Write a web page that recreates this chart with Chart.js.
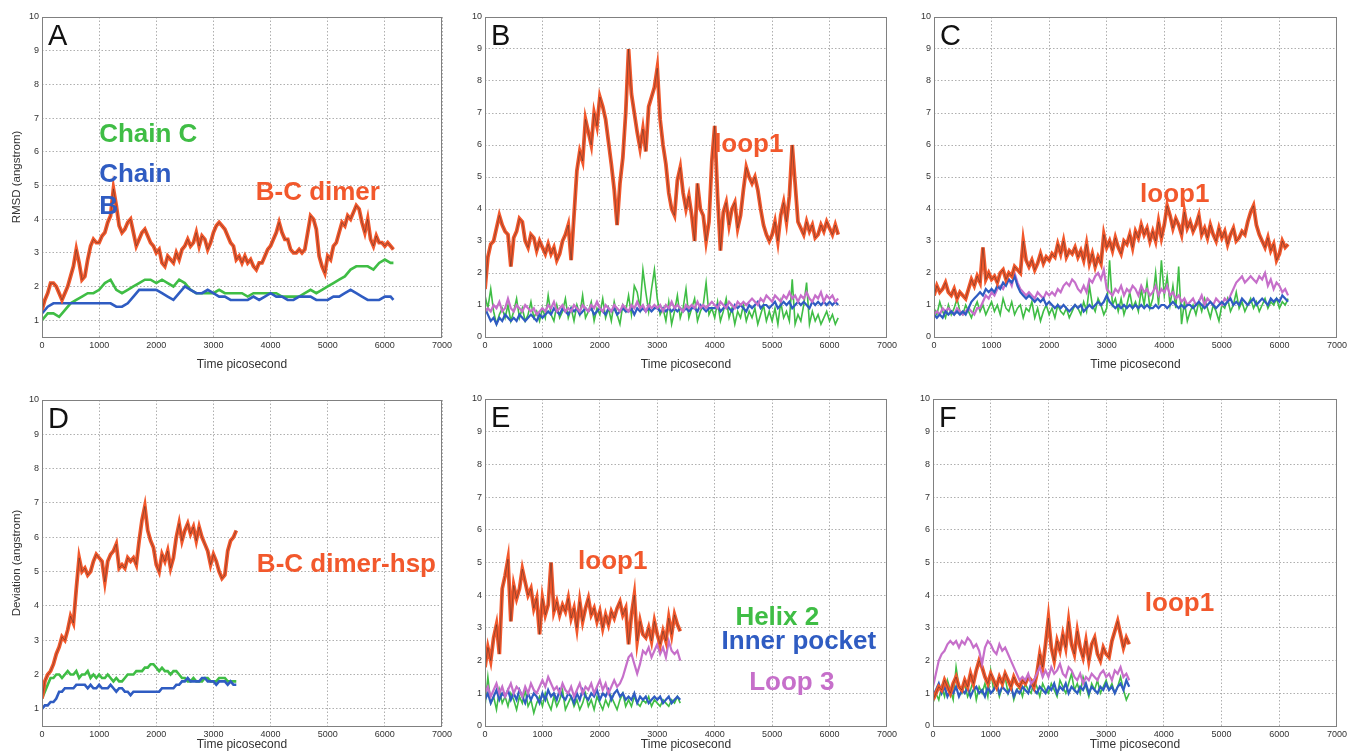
<!DOCTYPE html>
<html>
<head>
<meta charset="utf-8">
<script src="https://cdn.jsdelivr.net/npm/chart.js@4.4.1/dist/chart.umd.min.js"></script>
<style>
  html, body { margin: 0; padding: 0; background: #fff; overflow: hidden; }
  canvas { position: absolute; }
</style>
</head>
<body>
<canvas id="pA"></canvas>
<canvas id="pB"></canvas>
<canvas id="pC"></canvas>
<canvas id="pD"></canvas>
<canvas id="pE"></canvas>
<canvas id="pF"></canvas>
<script>
// time axes (picoseconds)
const T_LONG = [
  0, 50, 100, 150, 200, 250, 300, 350, 400, 450,
  500, 550, 600, 650, 700, 750, 800, 850, 900, 950,
  1000, 1050, 1100, 1150, 1200, 1250, 1300, 1350, 1400, 1450,
  1500, 1550, 1600, 1650, 1700, 1750, 1800, 1850, 1900, 1950,
  2000, 2050, 2100, 2150, 2200, 2250, 2300, 2350, 2400, 2450,
  2500, 2550, 2600, 2650, 2700, 2750, 2800, 2850, 2900, 2950,
  3000, 3050, 3100, 3150, 3200, 3250, 3300, 3350, 3400, 3450,
  3500, 3550, 3600, 3650, 3700, 3750, 3800, 3850, 3900, 3950,
  4000, 4050, 4100, 4150, 4200, 4250, 4300, 4350, 4400, 4450,
  4500, 4550, 4600, 4650, 4700, 4750, 4800, 4850, 4900, 4950,
  5000, 5050, 5100, 5150, 5200, 5250, 5300, 5350, 5400, 5450,
  5500, 5550, 5600, 5650, 5700, 5750, 5800, 5850, 5900, 5950,
  6000, 6050, 6100, 6150
];
const T_LONG_100 = [
  0, 100, 200, 300, 400, 500, 600, 700, 800, 900,
  1000, 1100, 1200, 1300, 1400, 1500, 1600, 1700, 1800, 1900,
  2000, 2100, 2200, 2300, 2400, 2500, 2600, 2700, 2800, 2900,
  3000, 3100, 3200, 3300, 3400, 3500, 3600, 3700, 3800, 3900,
  4000, 4100, 4200, 4300, 4400, 4500, 4600, 4700, 4800, 4900,
  5000, 5100, 5200, 5300, 5400, 5500, 5600, 5700, 5800, 5900,
  6000, 6100, 6150
];
const T_SHORT = [
  0, 50, 100, 150, 200, 250, 300, 350, 400, 450,
  500, 550, 600, 650, 700, 750, 800, 850, 900, 950,
  1000, 1050, 1100, 1150, 1200, 1250, 1300, 1350, 1400, 1450,
  1500, 1550, 1600, 1650, 1700, 1750, 1800, 1850, 1900, 1950,
  2000, 2050, 2100, 2150, 2200, 2250, 2300, 2350, 2400, 2450,
  2500, 2550, 2600, 2650, 2700, 2750, 2800, 2850, 2900, 2950,
  3000, 3050, 3100, 3150, 3200, 3250, 3300, 3350, 3400
];

// panel A: RMSD of B-C dimer, chain C, chain B
const A_DIMER = [
  1.3, 1.6, 1.8, 2.1, 2.1, 2.0, 1.8, 1.6, 1.8, 2.0,
  2.3, 2.6, 3.1, 2.7, 2.2, 2.3, 2.8, 3.2, 3.4, 3.3,
  3.3, 3.5, 3.6, 3.9, 4.1, 4.9, 4.4, 3.8, 3.6, 3.7,
  3.9, 4.0, 3.6, 3.2, 3.4, 3.6, 3.7, 3.5, 3.3, 3.2,
  3.0, 3.1, 2.7, 2.6, 2.9, 2.8, 2.7, 3.0, 2.8, 3.1,
  3.2, 3.4, 3.2, 3.3, 3.6, 3.2, 3.5, 3.4, 3.1, 3.3,
  3.6, 3.8, 3.9, 3.8, 3.7, 3.5, 3.3, 3.2, 2.8, 2.9,
  2.7, 2.9, 2.7, 2.8, 2.6, 2.5, 2.7, 2.7, 2.9, 3.1,
  3.2, 3.4, 3.6, 3.9, 3.6, 3.4, 3.4, 3.1, 3.0, 3.0,
  3.1, 3.0, 3.1, 3.6, 4.1, 4.0, 3.7, 2.9, 2.6, 2.4,
  2.9, 2.8, 3.2, 3.3, 3.6, 3.9, 3.8, 4.1, 4.0, 4.2,
  4.4, 4.3, 3.9, 3.6, 4.0, 3.4, 3.2, 3.5, 3.3, 3.3,
  3.2, 3.3, 3.2, 3.1
];
const A_CHAIN_C = [
  1.0, 1.2, 1.2, 1.1, 1.3, 1.5, 1.6, 1.7, 1.8, 1.8,
  1.9, 2.1, 2.2, 1.9, 1.8, 1.9, 2.0, 2.1, 2.2, 2.2,
  2.1, 2.2, 2.1, 2.0, 2.2, 2.1, 1.9, 1.8, 1.8, 1.8,
  1.8, 1.9, 1.8, 1.8, 1.8, 1.8, 1.7, 1.8, 1.8, 1.8,
  1.8, 1.8, 1.7, 1.7, 1.7, 1.7, 1.8, 1.9, 1.8, 1.9,
  2.0, 2.1, 2.2, 2.3, 2.5, 2.6, 2.6, 2.6, 2.5, 2.7,
  2.8, 2.7, 2.7
];
const A_CHAIN_B = [
  1.2, 1.4, 1.5, 1.5, 1.5, 1.5, 1.5, 1.5, 1.5, 1.5,
  1.5, 1.5, 1.5, 1.4, 1.4, 1.5, 1.7, 1.9, 1.9, 1.9,
  1.9, 1.8, 1.7, 1.6, 1.8, 2.0, 1.9, 1.8, 1.8, 1.9,
  1.8, 1.7, 1.7, 1.6, 1.6, 1.6, 1.6, 1.7, 1.6, 1.7,
  1.8, 1.7, 1.7, 1.6, 1.6, 1.7, 1.7, 1.7, 1.6, 1.6,
  1.6, 1.7, 1.7, 1.8, 1.9, 1.8, 1.7, 1.6, 1.6, 1.6,
  1.7, 1.7, 1.6
];

// panel B
const B_LOOP1 = [
  1.5, 2.5, 2.9, 3.0, 3.4, 3.8, 3.5, 3.3, 3.2, 2.2,
  3.1, 3.3, 3.7, 3.6, 3.0, 2.8, 3.2, 3.1, 2.7, 3.0,
  2.8, 2.6, 2.9, 2.6, 2.8, 2.4, 2.6, 3.0, 3.2, 3.5,
  2.4, 3.8, 5.2, 5.8, 5.5, 6.8, 6.4, 6.0, 7.0, 6.6,
  7.5, 7.2, 6.8, 6.1, 5.4, 4.6, 3.5, 4.8, 5.6, 7.0,
  9.0, 7.6, 7.0, 6.4, 5.9, 6.5, 5.8, 7.2, 7.5, 7.8,
  8.4, 6.8, 6.0, 5.4, 4.5, 4.0, 3.8, 4.9, 5.3, 4.5,
  4.0, 4.4, 3.8, 3.0, 4.8, 4.0, 3.8, 3.0, 3.6, 5.5,
  6.6, 4.4, 2.7, 3.9, 4.2, 3.5, 4.0, 4.2, 3.4, 3.8,
  4.6, 5.3, 5.0, 4.8, 5.0, 4.6, 4.0, 3.5, 3.2, 3.0,
  3.2, 3.6, 3.0, 3.8, 4.2, 3.6, 4.4, 6.0, 4.8, 3.6,
  3.4, 3.2, 3.6, 3.3, 3.5, 3.1, 3.2, 3.5, 3.3, 3.6,
  3.4, 3.2, 3.5, 3.2
];
const B_GREEN = [
  1.3, 0.9, 1.5, 0.8, 0.4, 0.7, 0.9, 0.6, 1.0, 0.5,
  0.8, 1.2, 0.6, 0.9, 0.5, 0.7, 1.1, 0.6, 0.8, 0.5,
  0.9, 0.6, 1.3, 0.7, 0.5, 1.0, 0.6, 0.8, 1.2, 0.6,
  0.9, 0.5, 1.0, 0.7, 1.3, 0.6, 0.8, 1.1, 0.5, 0.9,
  0.7, 1.2, 0.6, 0.9, 0.5, 1.1, 0.7, 0.4, 1.0, 0.8,
  1.3, 0.7, 1.6, 1.4, 0.9, 2.1, 1.4, 0.8, 1.5, 2.1,
  1.2, 0.7, 0.9, 0.5, 1.1, 0.4, 0.8, 1.3, 0.6, 0.9,
  1.5, 0.6, 0.9, 1.2, 0.5, 0.8, 1.0, 1.7, 0.7, 0.9,
  0.6, 1.1, 0.5, 0.8, 1.2, 0.6, 0.9, 0.4, 0.8, 0.6,
  1.0, 0.5, 0.8, 0.6, 0.9, 0.4, 0.7, 1.0, 0.5, 0.8,
  0.5, 0.9, 0.4, 1.1, 0.6, 0.8, 0.5, 1.8, 0.4, 0.7,
  0.5, 1.0, 1.7, 0.4, 0.8, 0.5, 0.7, 0.4, 0.6, 0.8,
  0.5, 0.7, 0.4, 0.6
];
const B_BLUE = [
  0.9, 0.7, 0.5, 0.6, 0.4, 0.6, 0.5, 0.7, 0.6, 0.5,
  0.6, 0.5, 0.7, 0.6, 0.5, 0.6, 0.7, 0.6, 0.5, 0.7,
  0.6, 0.7, 0.8, 0.7, 0.9, 0.8, 0.7, 0.9, 0.8, 0.7,
  0.9, 0.8, 0.9, 0.7, 0.8, 0.9, 0.8, 0.9, 0.7, 0.8,
  0.9, 0.8, 0.7, 0.9, 0.8, 0.9, 0.7, 0.8, 0.9, 0.8,
  0.8, 0.9, 0.7, 0.9, 0.8, 0.9, 0.8, 0.9, 0.8, 0.9,
  0.9, 0.8, 0.9, 0.8, 0.9, 0.8, 0.9, 0.8, 0.9, 0.8,
  0.9, 0.8, 0.9, 0.9, 0.8, 1.0, 0.9, 0.8, 0.9, 0.9,
  0.9, 1.0, 0.8, 0.9, 1.0, 0.9, 0.8, 1.0, 0.9, 1.0,
  0.9, 0.8, 1.0, 0.9, 1.0, 1.1, 0.9, 1.0, 1.0, 0.9,
  1.0, 1.1, 0.9, 1.0, 1.1, 1.0, 1.1, 0.9, 1.0, 1.1,
  1.0, 1.1, 1.0, 0.9, 1.1, 1.0, 1.1, 1.0, 1.1, 1.0,
  1.1, 1.0, 1.1, 1.0
];
const B_MAGENTA = [
  0.8, 0.9, 0.8, 1.0, 0.9, 1.1, 0.8, 0.9, 1.2, 0.9,
  0.8, 1.0, 0.9, 0.8, 1.0, 0.9, 0.8, 0.9, 0.7, 0.8,
  0.9, 0.8, 1.0, 0.9, 1.1, 0.8, 0.9, 1.0, 0.8, 0.9,
  0.8, 1.0, 0.9, 0.8, 1.0, 0.9, 0.8, 1.0, 0.9, 1.1,
  0.9, 0.8, 1.0, 0.9, 0.8, 1.0, 0.9, 0.8, 1.0, 0.9,
  0.8, 1.0, 0.9, 1.1, 0.9, 1.0, 0.8, 1.0, 0.9, 1.0,
  0.9, 1.0, 0.8, 1.0, 0.9, 1.1, 0.9, 1.0, 0.9, 0.8,
  1.0, 0.9, 1.0, 0.9, 1.1, 0.9, 1.0, 0.9, 1.0, 1.1,
  1.0, 0.9, 1.1, 1.0, 0.9, 1.1, 1.0, 0.9, 1.1, 1.0,
  1.1, 1.0, 1.1, 1.2, 1.1, 1.0, 1.2, 1.1, 1.3, 1.2,
  1.1, 1.3, 1.2, 1.1, 1.3, 1.2, 1.4, 1.2, 1.3, 1.1,
  1.3, 1.2, 1.4, 1.2, 1.1, 1.3, 1.2, 1.4, 1.1, 1.3,
  1.2, 1.3, 1.1, 1.2
];

// panel C
const C_LOOP1 = [
  1.3, 1.6, 1.4, 1.5, 1.7, 1.4, 1.3, 1.5, 1.2, 1.4,
  1.3, 1.2, 1.5, 1.8, 1.6, 1.9, 1.7, 2.8, 1.8, 2.0,
  1.8, 1.9, 1.7, 2.0, 2.1, 1.8, 2.0, 1.9, 2.2, 2.1,
  2.0, 3.0, 2.4, 2.2, 2.4, 2.1, 2.3, 2.6, 2.3, 2.5,
  2.4, 2.6, 2.5, 2.9, 2.6, 3.0, 2.5, 2.7, 2.6, 2.8,
  2.5, 2.7, 2.4, 2.9, 2.3, 2.6, 2.2, 2.5, 2.3, 3.2,
  2.8, 3.0, 2.7, 3.1, 2.8, 2.6, 3.0, 2.9, 3.2, 2.8,
  3.3, 3.1, 3.5, 3.2, 3.4, 3.0, 3.3, 3.0, 3.6, 3.1,
  3.5, 4.1, 3.8, 3.4, 3.7, 3.5, 3.2, 3.9, 3.4, 3.6,
  3.3, 3.5, 3.8, 3.2, 3.4, 3.1, 3.5, 3.2, 3.0, 3.4,
  3.1, 3.3, 2.9, 3.2, 3.4, 3.0, 3.1, 3.3, 3.2, 3.6,
  3.9, 4.1, 3.5, 3.2, 3.0, 2.8, 3.1, 2.7, 2.9, 2.4,
  2.6, 3.0, 2.8, 2.9
];
const C_GREEN = [
  0.9, 0.7, 1.1, 0.8, 0.6, 1.0, 0.7, 0.9, 1.2, 0.8,
  0.7, 1.0, 0.8, 0.6, 0.9, 1.1, 0.8, 1.0, 0.7, 0.9,
  1.1, 0.8, 1.0, 0.7, 1.2, 0.9, 0.8, 1.1, 0.7, 0.9,
  1.0, 0.6, 0.9, 0.8, 1.1, 0.6, 0.9, 0.5, 0.8, 1.0,
  0.7, 0.9, 0.6, 1.0, 0.8, 0.7, 0.9, 0.6, 0.8, 1.0,
  0.9, 0.7, 1.1, 0.8, 1.6, 1.0, 0.8, 1.2, 1.0, 0.7,
  0.9, 2.4, 1.0, 1.2, 0.8, 1.2, 0.7, 1.0, 1.4, 0.9,
  1.1, 0.8, 1.5, 1.0, 1.7, 0.9, 1.2, 2.0, 1.0, 2.4,
  1.3, 1.9, 1.0, 1.6, 0.9, 2.2, 0.4, 1.1, 0.5, 0.8,
  1.0, 0.7, 1.1, 0.8, 1.2, 0.9, 0.6, 1.0, 0.8, 0.5,
  1.0, 0.9, 1.2, 0.8, 1.0, 1.4, 0.9, 1.1, 0.8, 1.0,
  1.2, 0.9, 1.1, 0.8, 1.0, 1.2, 0.9, 1.1, 1.0, 1.2,
  0.9, 1.1, 1.0, 1.2
];
const C_BLUE = [
  0.7, 0.6, 0.7, 0.6, 0.8, 0.7, 0.8, 0.7, 0.8, 0.7,
  0.8, 0.7, 0.9, 1.1, 1.2, 1.3, 1.4, 1.3, 1.5, 1.4,
  1.5, 1.4, 1.6, 1.5, 1.7, 1.6, 1.8, 1.7, 1.9, 1.6,
  1.4, 1.3, 1.2, 1.3, 1.2, 1.1, 1.2, 1.1, 1.2, 1.0,
  1.1, 1.0, 0.9, 1.0, 0.9, 1.0, 0.9, 0.8, 0.9, 1.0,
  0.9, 1.0, 0.8, 0.9, 1.0, 0.9, 1.0, 1.1, 1.0, 1.1,
  1.3, 1.1, 1.0, 0.9, 1.0, 0.9, 1.0, 0.9, 1.0, 0.9,
  1.0, 0.9, 1.0, 0.9, 1.0, 0.9, 0.9, 1.0, 0.9, 1.0,
  1.0, 0.9, 1.0, 1.1, 1.0, 0.9, 1.0, 0.9, 1.0, 1.0,
  0.9, 1.0, 1.1, 1.0, 0.9, 1.0, 1.1, 1.0, 0.9, 1.0,
  1.1, 1.0, 1.1, 1.2, 1.0, 1.1, 1.0, 1.2, 1.1, 1.0,
  1.1, 1.2, 1.0, 1.1, 1.2, 1.1, 1.0, 1.2, 1.1, 1.2,
  1.1, 1.3, 1.2, 1.1
];
const C_MAGENTA = [
  0.7, 0.8, 0.7, 0.9, 0.8, 0.9, 0.8, 0.7, 0.9, 0.8,
  0.7, 0.8, 0.9, 0.8, 0.7, 0.9, 0.9, 1.1, 1.3, 1.2,
  1.4, 1.3, 1.5, 1.6, 1.5, 1.7, 1.8, 1.6, 2.0, 1.7,
  1.5, 1.4, 1.3, 1.4, 1.3, 1.2, 1.4, 1.3, 1.2, 1.4,
  1.3, 1.4, 1.3, 1.5, 1.4, 1.6, 1.7, 1.6, 1.8, 1.7,
  1.5, 1.4, 1.6, 1.4, 1.8, 1.7, 1.9, 2.0, 1.8, 2.1,
  1.5, 1.4, 1.3, 1.5, 1.4, 1.6, 1.3, 1.5, 1.4, 1.6,
  1.5, 1.3, 1.6, 1.4, 1.5, 1.3, 1.4, 1.6, 1.3, 1.5,
  1.4, 1.6, 1.3, 1.4, 1.2, 1.3, 1.1, 1.2, 1.0, 1.1,
  1.2, 1.0, 1.1, 1.3, 1.0, 1.2, 1.1, 1.0, 1.2, 1.1,
  1.0, 1.2, 1.1, 1.3, 1.5, 1.7, 1.8, 1.9, 1.7, 1.8,
  1.9, 1.8, 1.7, 1.9, 1.8, 2.0, 1.6, 1.8, 1.5, 1.7,
  1.6, 1.4, 1.5, 1.3
];

// panel D: deviation of B-C dimer with hsp
const D_DIMER = [
  1.3, 1.8, 2.0, 2.1, 2.3, 2.6, 2.8, 3.1, 3.0, 3.3,
  3.7, 3.5, 4.5, 5.4, 5.0, 5.1, 4.9, 5.0, 5.3, 5.5,
  5.4, 5.3, 4.7, 5.3, 5.5, 5.6, 5.8, 5.1, 5.2, 5.1,
  5.4, 5.3, 5.4, 5.2, 5.9, 6.5, 6.9, 6.2, 5.9, 5.7,
  5.2, 5.0, 5.5, 5.3, 5.6, 5.1, 5.4, 6.0, 6.4, 5.9,
  6.2, 6.4, 6.1, 6.3, 5.9, 6.3, 6.0, 5.8, 5.6, 5.2,
  5.5, 5.3, 5.0, 4.8, 4.9, 5.6, 5.9, 6.0, 6.2
];
const D_GREEN = [
  1.3, 1.5, 1.7, 1.9, 1.9, 2.0, 2.0, 1.9, 2.0, 2.1,
  2.0, 2.0, 2.1, 1.9, 2.0, 2.0, 2.1, 1.9, 2.0, 1.9,
  2.0, 1.9, 1.9, 2.0, 1.9, 1.8, 1.9, 1.8, 1.8, 1.9,
  2.0, 2.0, 2.0, 2.1, 2.1, 2.1, 2.2, 2.2, 2.3, 2.3,
  2.2, 2.1, 2.2, 2.1, 2.1, 2.0, 2.1, 2.1, 2.0, 1.9,
  1.9, 1.8, 1.8, 1.9, 1.8, 1.8, 1.8, 1.9, 1.9, 1.8,
  1.8, 1.8, 1.9, 1.9, 1.9, 1.8, 1.8, 1.8, 1.8
];
const D_BLUE = [
  1.0, 1.1, 1.1, 1.2, 1.2, 1.3, 1.5, 1.5, 1.6, 1.6,
  1.6, 1.6, 1.7, 1.7, 1.7, 1.7, 1.6, 1.7, 1.6, 1.6,
  1.7, 1.6, 1.6, 1.6, 1.7, 1.6, 1.5, 1.6, 1.6, 1.5,
  1.5, 1.4, 1.5, 1.5, 1.5, 1.5, 1.5, 1.5, 1.5, 1.5,
  1.5, 1.5, 1.6, 1.6, 1.6, 1.6, 1.6, 1.7, 1.7, 1.8,
  1.8, 1.9, 1.8, 1.8, 1.8, 1.8, 1.9, 1.9, 1.8, 1.8,
  1.8, 1.7, 1.8, 1.8, 1.8, 1.7, 1.8, 1.7, 1.7
];

// panel E
const E_LOOP1 = [
  1.8, 2.4, 2.0, 2.7, 3.1, 2.2, 4.2, 4.6, 5.1, 3.2,
  4.3, 3.9, 4.2, 4.8, 4.4, 4.0, 4.2, 3.6, 3.9, 2.8,
  3.9, 3.4, 3.7, 5.0, 3.5, 3.8, 3.4, 3.7, 3.5, 3.9,
  3.3, 3.6, 3.0, 3.8, 3.2, 3.6, 3.9, 3.4, 3.6, 3.2,
  3.5, 3.0, 3.4, 3.1, 3.5, 3.3, 3.6, 3.8, 3.4, 3.6,
  2.5, 3.4, 4.0, 2.6, 3.2, 2.8, 2.7, 3.0, 2.6, 3.2,
  2.8, 2.5, 2.9, 2.6, 3.3, 2.8, 3.4, 3.1, 2.9
];
const E_GREEN = [
  0.6, 1.5, 0.7, 0.9, 0.5, 1.1, 0.7, 0.9, 0.6, 1.0,
  0.8, 0.5, 0.9, 0.7, 1.1, 0.6, 0.8, 0.4, 0.7, 0.9,
  0.6, 1.0, 0.7, 0.5, 0.9, 0.6, 0.8, 1.1, 0.5, 0.7,
  0.9, 0.6, 0.8, 0.5, 0.7, 1.0, 0.6, 0.8, 0.5, 0.9,
  0.7, 0.5, 0.8, 0.6, 0.9, 0.7, 0.5, 0.8, 1.0, 0.6,
  0.8, 0.6, 0.9, 0.7, 0.6, 0.8, 0.7, 0.9, 0.6, 0.8,
  0.7, 0.6, 0.8, 0.7, 0.6, 0.8, 0.7, 0.9, 0.7
];
const E_BLUE = [
  0.8, 1.0, 0.7, 0.9, 1.1, 0.8, 1.0, 0.9, 1.1, 0.8,
  1.0, 0.8, 1.1, 0.9, 0.7, 1.0, 0.8, 1.0, 0.9, 0.7,
  1.0, 0.8, 1.1, 0.9, 1.0, 0.8, 1.1, 0.9, 0.8, 1.0,
  0.9, 0.7, 1.0, 0.8, 1.1, 0.9, 0.8, 1.0, 0.9, 1.1,
  0.8, 1.0, 0.9, 1.1, 0.8, 1.0, 1.1, 0.9, 1.0, 0.8,
  0.9, 0.8, 1.0, 0.7, 0.9, 0.8, 0.9, 0.7, 0.8, 0.9,
  0.8, 0.9, 0.7, 0.8, 0.9, 0.7, 0.8, 0.9, 0.8
];
const E_MAGENTA = [
  1.0, 1.2, 0.9, 1.1, 1.3, 1.0, 1.2, 0.9, 1.1, 1.3,
  1.0, 1.2, 1.1, 0.9, 1.2, 1.0, 1.3, 1.1, 1.0, 1.2,
  1.4, 1.2, 1.5, 1.3, 1.1, 1.2, 1.0, 1.3, 1.1, 1.0,
  1.2, 0.9, 1.1, 1.3, 1.0, 1.2, 1.1, 1.3, 1.0, 1.2,
  1.4, 1.1, 1.3, 1.0, 1.2, 1.4, 1.2, 1.3, 1.5, 1.8,
  2.1, 2.2, 1.9, 1.6, 1.9, 2.3, 2.2, 2.4, 2.1, 2.3,
  2.5, 2.2, 2.4, 2.1, 2.6, 2.3, 2.2, 2.3, 2.0
];

// panel F
const F_LOOP1 = [
  0.8, 1.0, 1.2, 1.1, 1.4, 1.2, 1.0, 1.3, 1.5, 1.2,
  1.1, 1.4, 1.2, 1.6, 1.3, 1.7, 2.0, 1.8, 1.5, 1.3,
  1.6, 1.4, 1.2, 1.5, 1.3, 1.6, 1.4, 1.2, 1.5, 1.3,
  1.2, 1.4, 1.3, 1.5, 1.4, 1.2, 1.6, 2.2, 1.8, 2.5,
  3.3, 2.4, 2.0, 2.6, 2.3, 2.8, 2.4, 3.2, 2.5, 2.2,
  2.9, 2.4, 2.1, 2.6, 2.0, 2.5, 2.7, 2.2, 2.0, 2.4,
  2.2, 2.1, 2.6, 2.9, 3.2, 2.8, 2.4, 2.7, 2.5
];
const F_GREEN = [
  0.7, 1.0, 0.8, 1.2, 0.9, 1.4, 1.1, 0.8, 1.8, 1.2,
  1.0, 1.3, 0.9, 1.1, 1.4, 0.8, 1.2, 1.0, 1.3, 0.9,
  1.7, 1.1, 1.3, 0.9, 1.2, 1.5, 1.0, 1.3, 0.8, 1.1,
  1.2, 0.9, 1.3, 1.1, 1.0, 1.4, 1.2, 0.9, 1.3, 1.1,
  1.0, 1.3, 1.1, 0.9, 1.4, 1.2, 1.0, 1.3, 1.6, 1.1,
  1.3, 1.0, 1.5, 1.2, 0.9, 1.3, 1.1, 1.4, 1.0, 1.2,
  1.4, 1.1, 1.3, 1.0, 1.2, 1.5, 1.1, 0.8, 1.0
];
const F_BLUE = [
  0.9, 1.1, 1.3, 1.0, 1.2, 0.9, 1.1, 1.0, 1.2, 0.9,
  1.1, 1.0, 1.2, 0.9, 1.1, 1.2, 1.0, 1.1, 0.9, 1.2,
  1.0, 1.1, 1.3, 1.0, 1.2, 1.1, 1.0, 1.2, 0.9, 1.1,
  1.0, 1.2, 1.1, 1.0, 1.3, 1.1, 1.0, 1.2, 1.1, 1.0,
  1.2, 1.1, 1.3, 1.0, 1.2, 1.1, 1.3, 1.0, 1.2, 1.1,
  1.0, 1.2, 1.1, 1.3, 1.0, 1.2, 1.1, 1.0, 1.2, 1.1,
  1.3, 1.1, 1.2, 1.0, 1.2, 1.3, 1.1, 1.4, 1.2
];
const F_MAGENTA = [
  1.2, 1.6, 2.0, 2.2, 2.3, 2.5, 2.6, 2.5, 2.6, 2.4,
  2.6, 2.5, 2.7, 2.6, 2.4, 2.5, 2.3, 1.9, 2.4, 2.6,
  2.5, 2.3, 2.2, 2.5, 2.3, 2.4, 2.2, 2.0, 1.8, 1.6,
  1.4, 1.5, 1.4, 1.6, 1.3, 1.4, 1.6, 1.8, 1.5, 1.7,
  1.5, 1.8, 1.6, 1.7, 1.9, 1.6, 1.5, 1.8, 1.7, 1.5,
  1.4, 1.6, 1.3, 1.5, 1.4, 1.6, 1.5, 1.4, 1.6, 1.7,
  1.5, 1.6, 1.4, 1.7, 1.6, 1.8, 1.5, 1.6, 1.4
];

const X_TICKS = [0, 1000, 2000, 3000, 4000, 5000, 6000, 7000];
const Y_TICKS = [0, 1, 2, 3, 4, 5, 6, 7, 8, 9, 10];

const ORANGE = '#f2582c';
const GREEN = '#3fbd45';
const BLUE = '#2f5cc2';
const MAGENTA = '#c66fca';
const FONT = '"Liberation Sans", Arial, sans-serif';

/**
 * Builds a line dataset from a time axis and a value list.
 */
function line(times, values, color, width) {
    return {
        data: values.map((v, i) => ({x: times[i], y: v})),
        borderColor: color,
        borderWidth: width,
        pointRadius: 0,
        tension: 0,
        fill: false
    };
}

// orange trace with the thin black trace running through it
function loop(times, values) {
    return [
        line(times, values, ORANGE, 3.8),
        line(times, values, 'rgba(40,40,40,0.7)', 0.6)
    ];
}

// draws the box, the panel letter and the coloured labels
const decorations = {
    id: 'decorations',
    afterDatasetsDraw(chart, args, opts) {
        const {ctx, chartArea: a, scales} = chart;
        ctx.save();
        ctx.strokeStyle = '#808080';
        ctx.lineWidth = 1;
        ctx.strokeRect(a.left + 0.5, a.top + 0.5, a.width - 1, a.height);
        ctx.fillStyle = '#111';
        ctx.font = '29px ' + FONT;
        ctx.textBaseline = 'top';
        ctx.fillText(opts.letter, a.left + 6, a.top + 5);
        ctx.font = 'bold 26px ' + FONT;
        ctx.textBaseline = 'middle';
        (opts.notes || []).forEach(n => {
            ctx.fillStyle = n.color;
            ctx.fillText(n.text, scales.x.getPixelForValue(n.t),
                         scales.y.getPixelForValue(n.v));
        });
        ctx.restore();
    }
};

function makePanel(p) {
    const canvas = document.getElementById(p.id);
    canvas.width = p.w;
    canvas.height = p.h;
    canvas.style.left = p.left + 'px';
    canvas.style.top = p.top + 'px';
    const tickFont = {family: FONT, size: 9};
    const datasets = p.series;
    datasets.forEach((d, i) => { d.order = datasets.length - i; });
    return new Chart(canvas, {
        type: 'line',
        data: {datasets: datasets},
        plugins: [decorations],
        options: {
            responsive: false,
            animation: false,
            devicePixelRatio: 1,
            layout: {padding: {top: p.padTop, right: p.padRight, left: 0, bottom: 0}},
            plugins: {
                legend: {display: false},
                tooltip: {enabled: false},
                decorations: {letter: p.letter, notes: p.notes}
            },
            scales: {
                x: {
                    type: 'linear',
                    min: 0,
                    max: 7000,
                    afterBuildTicks: s => { s.ticks = X_TICKS.map(v => ({value: v})); },
                    afterFit: s => { s.height = p.xh; },
                    ticks: {font: tickFont, color: '#333', padding: 3, maxRotation: 0,
                            callback: v => String(v)},
                    grid: {color: '#9a9a9a', lineWidth: 0.8, drawTicks: false},
                    border: {display: false, dash: [1.5, 2]},
                    title: {display: true, text: 'Time picosecond', color: '#333',
                            font: {family: FONT, size: 12}, padding: {top: 0, bottom: 0}}
                },
                y: {
                    type: 'linear',
                    min: p.ymin,
                    max: 10,
                    afterBuildTicks: s => {
                        s.ticks = Y_TICKS.filter(v => v >= p.ymin).map(v => ({value: v}));
                    },
                    afterFit: s => { s.width = p.yw; },
                    ticks: {font: tickFont, color: '#333', padding: 3,
                            callback: v => String(v)},
                    grid: {color: '#9a9a9a', lineWidth: 0.8, drawTicks: false},
                    border: {display: false, dash: [1.5, 2]},
                    title: {display: !!p.ytitle, text: p.ytitle || '', color: '#333',
                            font: {family: FONT, size: 11.5}, padding: {top: 10, bottom: 0}}
                }
            }
        }
    });
}

const panels = [
    {id: 'pA', letter: 'A', left: 0, top: 0, w: 460, h: 372, padTop: 17, padRight: 18,
     yw: 42, xh: 35, ymin: 0.5, ytitle: 'RMSD (angstrom)',
     series: [
         line(T_LONG_100, A_CHAIN_C, GREEN, 2.6),
         line(T_LONG_100, A_CHAIN_B, BLUE, 2.6),
         ...loop(T_LONG, A_DIMER)
     ],
     notes: [
         {text: 'Chain C', t: 1000, v: 6.5, color: GREEN},
         {text: 'Chain', t: 1000, v: 5.3, color: BLUE},
         {text: 'B', t: 1000, v: 4.35, color: BLUE},
         {text: 'B-C dimer', t: 3740, v: 4.77, color: ORANGE}
     ]},
    {id: 'pB', letter: 'B', left: 460, top: 0, w: 440, h: 372, padTop: 17, padRight: 12,
     yw: 25, xh: 35, ymin: 0,
     series: [
         line(T_LONG, B_GREEN, GREEN, 1.6),
         line(T_LONG, B_BLUE, BLUE, 2.2),
         line(T_LONG, B_MAGENTA, MAGENTA, 2.2),
         ...loop(T_LONG, B_LOOP1)
     ],
     notes: [{text: 'loop1', t: 3990, v: 6.0, color: ORANGE}]},
    {id: 'pC', letter: 'C', left: 900, top: 0, w: 450, h: 372, padTop: 17, padRight: 11,
     yw: 34, xh: 35, ymin: 0,
     series: [
         line(T_LONG, C_GREEN, GREEN, 1.6),
         line(T_LONG, C_MAGENTA, MAGENTA, 2.2),
         line(T_LONG, C_BLUE, BLUE, 2.2),
         ...loop(T_LONG, C_LOOP1)
     ],
     notes: [{text: 'loop1', t: 3580, v: 4.44, color: ORANGE}]},
    {id: 'pD', letter: 'D', left: 0, top: 385, w: 460, h: 367, padTop: 15, padRight: 18,
     yw: 42, xh: 26, ymin: 0.5, ytitle: 'Deviation (angstrom)',
     series: [
         line(T_SHORT, D_GREEN, GREEN, 2.6),
         line(T_SHORT, D_BLUE, BLUE, 2.6),
         ...loop(T_SHORT, D_DIMER)
     ],
     notes: [{text: 'B-C dimer-hsp', t: 3760, v: 5.2, color: ORANGE}]},
    {id: 'pE', letter: 'E', left: 460, top: 385, w: 440, h: 367, padTop: 14, padRight: 12,
     yw: 25, xh: 26, ymin: 0,
     series: [
         line(T_SHORT, E_GREEN, GREEN, 1.6),
         line(T_SHORT, E_BLUE, BLUE, 2.2),
         line(T_SHORT, E_MAGENTA, MAGENTA, 2.2),
         ...loop(T_SHORT, E_LOOP1)
     ],
     notes: [
         {text: 'loop1', t: 1620, v: 5.02, color: ORANGE},
         {text: 'Helix 2', t: 4360, v: 3.31, color: GREEN},
         {text: 'Inner pocket', t: 4120, v: 2.57, color: BLUE},
         {text: 'Loop 3', t: 4600, v: 1.32, color: MAGENTA}
     ]},
    {id: 'pF', letter: 'F', left: 900, top: 385, w: 450, h: 367, padTop: 14, padRight: 10,
     yw: 33, xh: 26, ymin: 0,
     series: [
         line(T_SHORT, F_GREEN, GREEN, 1.6),
         line(T_SHORT, F_BLUE, BLUE, 2.2),
         ...loop(T_SHORT, F_LOOP1),
         line(T_SHORT, F_MAGENTA, MAGENTA, 2.2)
     ],
     notes: [{text: 'loop1', t: 3670, v: 3.74, color: ORANGE}]}
];

panels.forEach(makePanel);
</script>
</body>
</html>
